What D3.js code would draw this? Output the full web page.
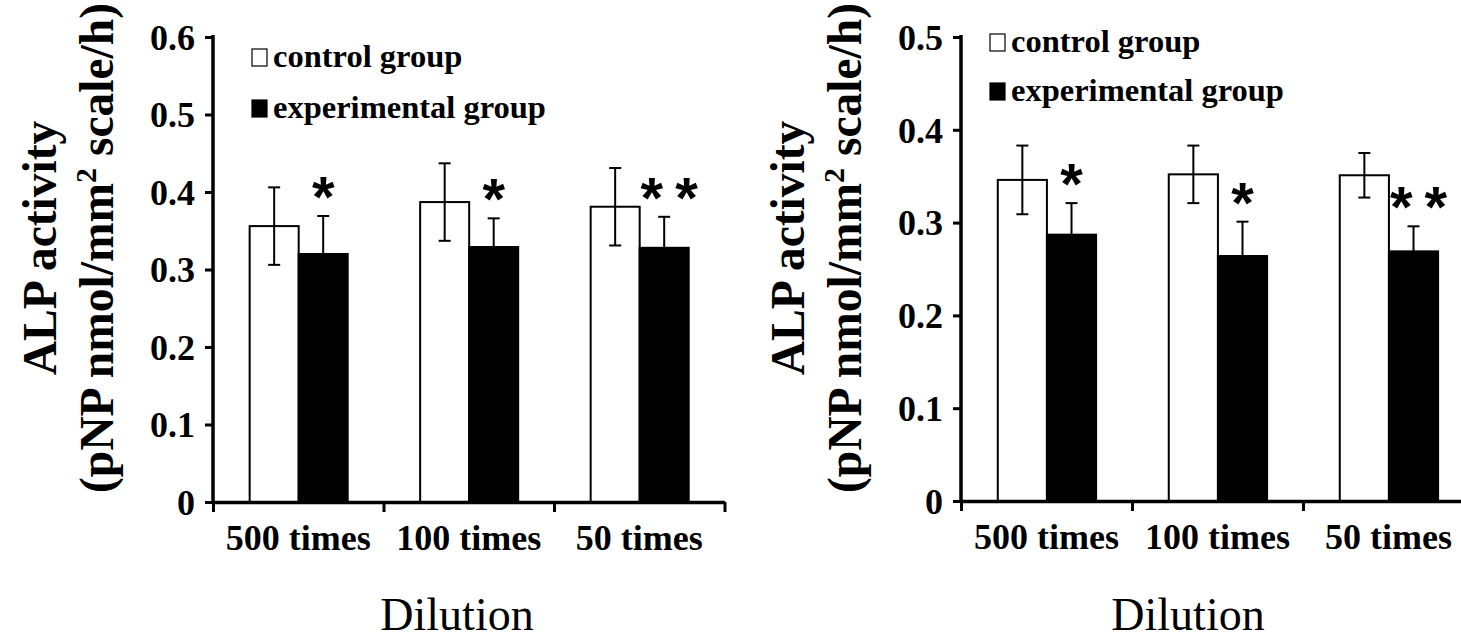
<!DOCTYPE html>
<html><head><meta charset="utf-8">
<script src="https://cdn.jsdelivr.net/npm/d3@7/dist/d3.min.js"></script>
<style>
html,body{margin:0;padding:0;background:#fff;}
svg{display:block;}
</style></head>
<body><svg id="chart" width="1461" height="643"></svg>
<script>
const categories = ["500 times", "100 times", "50 times"];
const seriesNames = ["control group", "experimental group"];
// left chart
const controlA = [0.356, 0.387, 0.381];
const controlAErr = [0.050, 0.050, 0.050];
const expA = [0.320, 0.329, 0.328];
const expAErr = [0.049, 0.037, 0.040];
const sigA = ["*", "*", "**"];
const yTicksA = [0, 0.1, 0.2, 0.3, 0.4, 0.5, 0.6];
// right chart
const controlB = [0.346, 0.352, 0.351];
const controlBErr = [0.037, 0.031, 0.024];
const expB = [0.287, 0.264, 0.269];
const expBErr = [0.034, 0.037, 0.027];
const sigB = ["*", "*", "**"];
const yTicksB = [0, 0.1, 0.2, 0.3, 0.4, 0.5];

const yTitle1 = "ALP activity";
const xTitle = "Dilution";
const SERIF = "'Liberation Serif','Times New Roman',serif";
const SANS = "'Liberation Sans',Arial,sans-serif";

const svg = d3.select("#chart");

function drawChart(cfg) {
  const g = svg.append("g");
  const y = d3.scaleLinear().domain([0, cfg.yMax]).range([cfg.y0, cfg.yTop]);
  const x = d3.scaleBand().domain(categories).range([cfg.x0, cfg.x0 + 3 * cfg.band]);
  const xs = d3.scaleBand().domain(["c", "e"]).range([cfg.band * 0.215, cfg.band * 0.79]);

  // y axis
  const ya = g.append("g").attr("transform", `translate(${cfg.x0},0)`)
    .call(d3.axisLeft(y).tickValues(cfg.ticks).tickSize(8).tickPadding(10)
      .tickFormat(d => d === 0 ? "0" : d3.format(".1f")(d)));
  ya.select(".domain").attr("stroke-width", 3.5).attr("d", `M0,${cfg.y0 + 1.5}V${cfg.yTop - 2}`);
  ya.selectAll(".tick line").attr("stroke-width", 3);
  ya.selectAll(".tick text").style("font-family", SERIF).attr("font-weight", "bold")
    .attr("font-size", 36).attr("dy", "0.34em").attr("fill", "#000");

  // bars
  const rows = categories.map((c, i) => ({c, i}));
  const bg = g.selectAll(".grp").data(rows).join("g")
    .attr("transform", d => `translate(${x(d.c)},0)`);
  bg.append("rect").attr("x", xs("c")).attr("width", xs.bandwidth())
    .attr("y", d => y(cfg.ctrl[d.i])).attr("height", d => y(0) - y(cfg.ctrl[d.i]))
    .attr("fill", "#fff").attr("stroke", "#000").attr("stroke-width", 2);
  bg.append("rect").attr("x", xs("e")).attr("width", xs.bandwidth())
    .attr("y", d => y(cfg.exp[d.i])).attr("height", d => y(0) - y(cfg.exp[d.i]))
    .attr("fill", "#000").attr("stroke", "#000").attr("stroke-width", 2);

  // error bars
  function errBar(sel, key, vals, errs) {
    const cx = xs(key) + xs.bandwidth() / 2;
    sel.append("line").attr("x1", cx).attr("x2", cx)
      .attr("y1", d => y(vals[d.i] - (key === "c" ? errs[d.i] : 0)))
      .attr("y2", d => y(vals[d.i] + errs[d.i])).attr("stroke", "#000").attr("stroke-width", 2);
    sel.append("line").attr("x1", cx - 6).attr("x2", cx + 6)
      .attr("y1", d => y(vals[d.i] + errs[d.i])).attr("y2", d => y(vals[d.i] + errs[d.i]))
      .attr("stroke", "#000").attr("stroke-width", 2);
    if (key === "c") {
      sel.append("line").attr("x1", cx - 6).attr("x2", cx + 6)
        .attr("y1", d => y(vals[d.i] - errs[d.i])).attr("y2", d => y(vals[d.i] - errs[d.i]))
        .attr("stroke", "#000").attr("stroke-width", 2);
    }
  }
  errBar(bg, "c", cfg.ctrl, cfg.ctrlErr);
  errBar(bg, "e", cfg.exp, cfg.expErr);

  // significance
  bg.append("text")
    .attr("x", d => xs("e") + xs.bandwidth() / 2 + (cfg.sig[d.i].length > 1 ? 5 + 6 : 0))
    .attr("y", d => y(cfg.exp[d.i] + cfg.expErr[d.i]) + 1)
    .attr("text-anchor", "middle").style("font-family", SANS).attr("font-weight", "bold")
    .attr("font-size", 58).style("letter-spacing", d => cfg.sig[d.i].length > 1 ? "12px" : "0px")
    .attr("fill", "#000")
    .text(d => cfg.sig[d.i]);

  // x axis boundary ticks
  const xl = d3.scaleLinear().domain([0, 3]).range([cfg.x0, cfg.x0 + 3 * cfg.band]);
  const xa = g.append("g").attr("transform", `translate(0,${cfg.y0})`)
    .call(d3.axisBottom(xl).tickValues([0, 1, 2, 3]).tickSize(10).tickSizeOuter(0).tickFormat(""));
  xa.select(".domain").attr("stroke-width", 3.5);
  xa.selectAll(".tick line").attr("stroke-width", 3);
  // category labels
  const xb = g.append("g").attr("transform", `translate(0,${cfg.y0})`)
    .call(d3.axisBottom(x).tickSize(0).tickPadding(48));
  xb.select(".domain").remove();
  xb.selectAll(".tick text").style("font-family", SERIF).attr("font-weight", "bold")
    .attr("font-size", 36).attr("dy", "0").attr("fill", "#000");

  // x title
  g.append("text").attr("x", cfg.xTitleX).attr("y", 630).attr("text-anchor", "middle")
    .style("font-family", SERIF).attr("font-size", 46).attr("fill", "#000").text(xTitle);

  // y title
  const yt = g.append("text").attr("transform", `translate(${cfg.yTitleX},${cfg.yTitleY}) rotate(-90)`)
    .attr("text-anchor", "middle").style("font-family", SERIF).attr("font-weight", "bold")
    .attr("font-size", 47.5).attr("fill", "#000");
  yt.append("tspan").attr("x", 0).attr("dy", 0).text(yTitle1);
  yt.append("tspan").attr("x", 0).attr("dy", 57).text("(pNP nmol/mm");
  yt.append("tspan").attr("font-size", 30).attr("dy", -17).text("2");
  yt.append("tspan").attr("dy", 17).text(" scale/h)");

  // legend
  const lg = g.append("g").attr("transform", `translate(${cfg.legX},${cfg.legY})`);
  seriesNames.forEach((n, i) => {
    const row = lg.append("g").attr("transform", `translate(0,${i * cfg.legGap})`);
    row.append("rect").attr("x", 0).attr("y", -8).attr("width", 15).attr("height", 17)
      .attr("fill", i === 0 ? "#fff" : "#000").attr("stroke", "#000").attr("stroke-width", 1.2);
    row.append("text").attr("x", 21).attr("y", 0).attr("dy", "0.3em").style("font-family", SERIF)
      .attr("font-weight", "bold").attr("font-size", 32.5).attr("fill", "#000").text(n);
  });
}

drawChart({x0: 213, band: 170.5, y0: 502, yTop: 37, yMax: 0.6, ticks: yTicksA,
  ctrl: controlA, ctrlErr: controlAErr, exp: expA, expErr: expAErr, sig: sigA,
  xTitleX: 457, yTitleX: 56, yTitleY: 248, legX: 252, legY: 57, legGap: 51});
drawChart({x0: 961, band: 171, y0: 501, yTop: 37, yMax: 0.5, ticks: yTicksB,
  ctrl: controlB, ctrlErr: controlBErr, exp: expB, expErr: expBErr, sig: sigB,
  xTitleX: 1188, yTitleX: 804, yTitleY: 248, legX: 990, legY: 42, legGap: 49});
</script></body></html>
